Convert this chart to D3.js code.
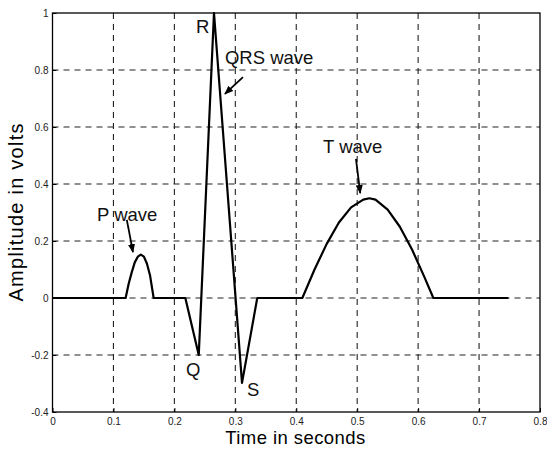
<!DOCTYPE html>
<html>
<head>
<meta charset="utf-8">
<script src="https://cdn.jsdelivr.net/npm/d3@7"></script>
<style>
  body { margin: 0; background: #fff; }
  svg { font-family: "Liberation Sans", Arial, sans-serif; }
  .tick-label { font-size: 10px; fill: #222; }
  .note { font-size: 18.5px; fill: #111; }
</style>
</head>
<body>
<svg id="chart" width="547" height="451"></svg>
<script>
// time (s) and amplitude (V)
const times = [0, 0.12, 0.125, 0.13, 0.135, 0.14, 0.145, 0.15, 0.155, 0.16, 0.166,
  0.218, 0.240, 0.265, 0.311, 0.336,
  0.41, 0.43, 0.45, 0.47, 0.49, 0.51, 0.52, 0.53, 0.55, 0.57, 0.59, 0.61, 0.625, 0.748];
const volts = [0, 0, 0.05, 0.09, 0.125, 0.145, 0.152, 0.145, 0.12, 0.08, 0,
  0, -0.2, 1.0, -0.298, 0,
  0, 0.10, 0.19, 0.265, 0.318, 0.345, 0.35, 0.345, 0.31, 0.25, 0.17, 0.075, 0, 0];

const xTicks = [0, 0.1, 0.2, 0.3, 0.4, 0.5, 0.6, 0.7, 0.8];
const yTicks = [-0.4, -0.2, 0, 0.2, 0.4, 0.6, 0.8, 1];
const xTickLabels = ['0', '0.1', '0.2', '0.3', '0.4', '0.5', '0.6', '0.7', '0.8'];
const yTickLabels = ['-0.4', '-0.2', '0', '0.2', '0.4', '0.6', '0.8', '1'];

// annotations: label, text position, arrow tail/tip (all in data units)
const labels = [
  {text: 'R', t: 0.2354, a: 0.93},
  {text: 'QRS wave', t: 0.283, a: 0.821},
  {text: 'P wave', t: 0.073, a: 0.270},
  {text: 'Q', t: 0.219, a: -0.274},
  {text: 'S', t: 0.319, a: -0.344},
  {text: 'T wave', t: 0.444, a: 0.509}
];
const arrows = [
  {t0: 0.3126, a0: 0.775, t1: 0.283, a1: 0.716},
  {t0: 0.122, a0: 0.274, t1: 0.132, a1: 0.161},
  {t0: 0.498, a0: 0.488, t1: 0.505, a1: 0.368}
];

var margin = {top: 13, right: 7, bottom: 39, left: 52.5},
  width = 547 - margin.left - margin.right,
  height = 451 - margin.top - margin.bottom;

var svg = d3.select('#chart');
var g = svg.append('g')
  .attr('transform', 'translate(' + margin.left + ',' + margin.top + ')');

var x = d3.scaleLinear().domain([0, 0.8]).range([0, width]);
var y = d3.scaleLinear().domain([-0.4, 1]).range([height, 0]);

// dashed grid
g.selectAll('.vgrid')
  .data(xTicks.slice(1, -1))
  .enter()
  .append('line')
  .attr('x1', d => x(d)).attr('x2', d => x(d))
  .attr('y1', 0).attr('y2', height)
  .attr('stroke', '#222')
  .attr('stroke-width', 1.1)
  .attr('stroke-dasharray', '6,5');

g.selectAll('.hgrid')
  .data(yTicks.slice(1, -1))
  .enter()
  .append('line')
  .attr('x1', 0).attr('x2', width)
  .attr('y1', d => y(d)).attr('y2', d => y(d))
  .attr('stroke', '#222')
  .attr('stroke-width', 1.1)
  .attr('stroke-dasharray', '6,5');

// axes with inward ticks
var xAxis = d3.axisBottom(x).tickValues(xTicks)
  .tickFormat((d, i) => xTickLabels[i]).tickSizeInner(-4).tickSizeOuter(0).tickPadding(6);
var yAxis = d3.axisLeft(y).tickValues(yTicks)
  .tickFormat((d, i) => yTickLabels[i]).tickSizeInner(-4).tickSizeOuter(0).tickPadding(4);

var gx = g.append('g').attr('transform', 'translate(0,' + height + ')').call(xAxis);
var gy = g.append('g').call(yAxis);
[gx, gy].forEach(function (ax) {
  ax.select('.domain').remove();
  ax.selectAll('line').attr('stroke', '#000');
  ax.selectAll('text').attr('class', 'tick-label').attr('font-family', null).attr('font-size', null);
});

// frame
g.append('rect')
  .attr('width', width).attr('height', height)
  .attr('fill', 'none').attr('stroke', '#000').attr('stroke-width', 1.3);

// signal
var points = times.map((t, i) => [t, volts[i]]);
var line = d3.line().x(d => x(d[0])).y(d => y(d[1]));
g.append('path')
  .datum(points)
  .attr('d', line)
  .attr('fill', 'none')
  .attr('stroke', '#000')
  .attr('stroke-width', 2.2)
  .attr('stroke-linejoin', 'round');

// annotations
svg.append('defs').append('marker')
  .attr('id', 'head')
  .attr('viewBox', '0 0 10 10')
  .attr('refX', 9).attr('refY', 5)
  .attr('markerWidth', 5).attr('markerHeight', 5)
  .attr('orient', 'auto')
  .append('path').attr('d', 'M0,1 L10,5 L0,9 Z').attr('fill', '#000');

g.selectAll('.arrow')
  .data(arrows)
  .enter()
  .append('line')
  .attr('x1', d => x(d.t0)).attr('y1', d => y(d.a0))
  .attr('x2', d => x(d.t1)).attr('y2', d => y(d.a1))
  .attr('stroke', '#000').attr('stroke-width', 1.8)
  .attr('marker-end', 'url(#head)');

g.selectAll('.note')
  .data(labels)
  .enter()
  .append('text')
  .attr('class', 'note')
  .attr('x', d => x(d.t)).attr('y', d => y(d.a))
  .text(d => d.text);

// axis titles
svg.append('text')
  .attr('x', margin.left + x(0.4) - 1).attr('y', 444)
  .attr('text-anchor', 'middle')
  .attr('font-size', 18.5)
  .attr('textLength', 140)
  .text('Time in seconds');

svg.append('text')
  .attr('transform', 'translate(23,' + (margin.top + y(0.3)) + ') rotate(-90)')
  .attr('text-anchor', 'middle')
  .attr('font-size', 20)
  .attr('textLength', 178)
  .text('Amplitude in volts');
</script>
</body>
</html>
